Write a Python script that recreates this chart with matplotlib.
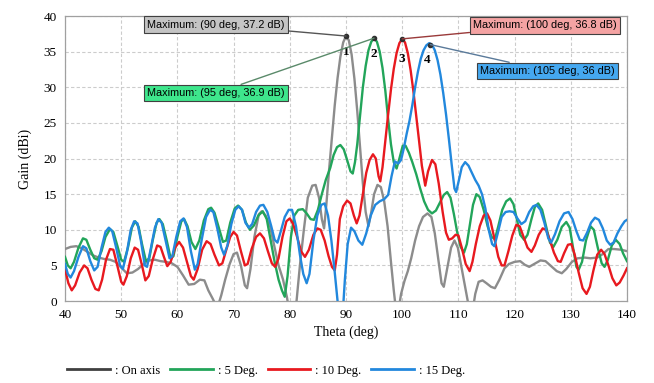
import matplotlib
matplotlib.use("Agg")
import matplotlib.pyplot as plt

# ---------------- data ----------------
theta_axis = [40, 41, 42, 43, 44, 45, 46, 47, 48, 49, 50, 51, 52, 53, 54, 55, 56, 57, 58, 59,
              60, 61, 62, 63, 64, 64.8, 65.5, 66.3, 67.1, 67.8, 68.5, 69.3, 70, 70.6, 71.3, 72, 72.4,
              73, 73.7, 74.5, 75, 75.7, 76.5, 77.3, 78, 78.8, 79.5, 80, 80.6, 81.2, 81.8, 82.5,
              83.2, 84, 84.6, 85.2, 85.7, 86.1, 86.5, 87, 87.5, 88, 88.5, 89, 89.5, 90, 90.5,
              91, 91.5, 92, 92.5, 93, 93.5, 94, 94.5, 95, 95.6, 96.2, 96.8, 97.4, 98, 98.5, 99,
              99.4, 99.8, 100.4, 101, 101.6, 102.3, 103, 103.7, 104.5, 105.2, 105.8, 106.4, 107,
              107.4, 108, 108.7, 109.3, 109.9, 110.6, 111.3, 111.9, 112.5, 113, 113.6, 114.3, 115,
              115.8, 116.5, 117.3, 118.2, 119, 120, 121, 121.8, 122.6, 123.5, 124.6, 125.5, 126.5,
              127.5, 128.4, 129.2, 130.2, 131.2, 132.5, 133.5, 134.7, 135.7, 136.7, 137.7, 139, 140]
gain_axis = [7.3, 7.6, 7.7, 7.4, 6.9, 6.4, 6.1, 5.9, 5.8, 5.5, 4.7, 3.9, 4.0, 4.5, 5.2, 5.7, 5.8, 5.6, 5.5, 5.3,
             4.8, 3.6, 2.3, 2.4, 3.0, 2.9, 1.5, 0.3, -1.0, 0.8, 3.0, 5.2, 6.6, 6.8, 5.0, 2.2, 1.8,
             4.5, 9.0, 12.2, 12.6, 12.0, 10.5, 7.5, 5.0, 3.0, 0.5, -2.0, -3.0, 0.0, 5.0, 10.0,
             14.5, 16.2, 16.3, 14.5, 11.5, 10.2, 13.5, 18.5, 23.0, 27.5, 31.3, 34.3, 36.3, 37.2, 36.6,
             34.6, 31.2, 26.7, 21.5, 16.5, 12.5, 10.5, 12.5, 15.0, 16.3, 16.0, 14.0, 10.5, 5.5, 1.5, -2.0,
             -1.0, 1.0, 2.8, 4.2, 6.0, 8.5, 10.5, 11.8, 12.3, 11.8, 9.5, 6.0, 2.5,
             2.0, 4.5, 7.5, 8.5, 7.5, 4.5, 1.5, -1.0, -1.5, 1.0, 2.7, 2.9, 2.5,
             2.0, 1.8, 3.0, 4.6, 5.2, 5.5, 5.6, 5.1, 4.8, 5.2, 5.7, 5.6, 4.9,
             4.2, 3.9, 4.5, 5.5, 6.0, 6.1, 6.0, 6.1, 6.6, 7.3, 7.3, 7.2, 7.0]

theta_5 = [40, 40.5, 41, 41.6, 42.4, 43.2, 43.8, 44.5, 45.2, 45.8, 46.5, 47.2, 48, 48.6, 49.3, 50, 50.5,
           51.2, 51.9, 52.5, 53.1, 53.7, 54.4, 55, 55.6, 56.3, 56.8, 57.4, 58.1, 58.8, 59.3, 60, 60.7,
           61.2, 61.8, 62.5, 63.2, 63.9, 64.7, 65.5, 66, 66.6, 67.3, 68.1, 68.7, 69.4, 70.2, 70.8,
           71.5, 72.2, 72.9, 73.6, 74.4, 75.2, 75.9, 76.6, 77.3, 78, 78.6, 79.1, 79.6, 80.2, 80.8,
           81.5, 82.3, 83, 83.7, 84.3, 85, 85.7, 86.4, 87.2, 87.8, 88.4, 89, 89.6, 90.2, 90.8, 91.2,
           91.6, 92, 92.5, 93, 93.5, 94, 94.5, 95, 95.5, 96, 96.5, 97, 97.5, 98, 98.5, 99, 99.5,
           100.1, 100.6, 101.2, 101.8, 102.5, 103.2, 103.9, 104.6, 105.3, 106, 106.7, 107.4, 108,
           108.6, 109.2, 109.8, 110.4, 111, 111.5, 112, 112.6, 113.2, 113.8, 114.5, 115.2, 115.9,
           116.5, 117.1, 117.8, 118.5, 119.2, 119.8, 120.4, 121, 121.7, 122.3, 123, 123.6, 124.2,
           124.9, 125.6, 126.3, 126.9, 127.6, 128.4, 129.2, 129.8, 130.4, 131, 131.4, 132, 132.7,
           133.5, 134.1, 134.8, 135.5, 136, 136.6, 137.3, 138, 138.7, 139.3, 140]
gain_5 = [6.2, 5.0, 4.6, 5.5, 7.5, 8.8, 8.6, 7.2, 6.0, 5.8, 7.0, 9.0, 10.1, 9.7, 7.8, 5.8, 5.5,
          7.5, 10.3, 11.2, 10.4, 8.0, 5.6, 6.0, 8.5, 11.0, 11.5, 10.8, 8.5, 6.0, 6.3, 9.0, 11.2,
          11.5, 10.5, 8.3, 7.3, 8.5, 11.3, 12.9, 13.1, 12.4, 10.5, 8.3, 8.5, 11.0, 13.0, 13.4,
          12.8, 11.0, 10.0, 10.6, 12.0, 12.6, 11.5, 8.5, 5.5, 3.0, 1.5, 0.6, 3.5, 9.0, 12.0,
          12.8, 12.9, 12.3, 11.5, 11.4, 12.8, 15.0, 17.0, 18.7, 20.5, 21.6, 21.9, 21.3, 19.8, 18.2, 17.9,
          19.5, 22.0, 26.0, 30.0, 33.0, 35.2, 36.4, 36.9, 36.4, 35.0, 32.7, 29.5, 25.5, 22.0, 19.5, 18.6, 20.0,
          21.8, 21.8, 20.8, 19.5, 17.8, 15.8, 14.0, 12.8, 12.3, 12.7, 13.8, 14.9, 15.3,
          14.5, 12.2, 9.6, 7.6, 6.8, 8.0, 10.5, 13.5, 15.0, 14.6, 12.8, 10.5, 9.0,
          8.7, 10.5, 12.8, 14.0, 14.4, 13.6, 11.5, 9.3, 8.6, 9.3, 11.5, 13.2, 13.7,
          12.8, 10.5, 8.2, 7.6, 8.6, 10.4, 11.1, 10.3, 7.5, 4.8, 4.4, 5.5, 8.5,
          10.5, 10.0, 7.5, 5.3, 4.8, 5.8, 7.8, 8.6, 8.0, 6.7, 5.6]

theta_10 = [40, 40.6, 41.2, 41.8, 42.6, 43.4, 44, 44.7, 45.4, 46, 46.6, 47.3, 48, 48.6, 49.3, 50, 50.4,
            51, 51.7, 52.4, 53, 53.7, 54.3, 54.9, 55.6, 56.4, 57, 57.6, 58.2, 58.8, 59.6, 60.3, 61,
            61.7, 62.4, 62.9, 63.6, 64.4, 65.2, 65.9, 66.6, 67.4, 68, 68.7, 69.4, 70, 70.6, 71.3, 72,
            72.5, 73.2, 74, 74.7, 75.4, 76.1, 76.8, 77.4, 78, 78.7, 79.4, 80, 80.6, 81.3, 82, 82.7,
            83.4, 84.2, 84.9, 85.5, 86.2, 86.9, 87.5, 88, 88.4, 88.9, 89.5, 90.2, 90.8, 91.4, 91.9,
            92.4, 93, 93.6, 94.2, 94.8, 95.3, 95.8, 96.1, 96.5, 97, 97.5, 98, 98.5, 99, 99.5, 100,
            100.5, 101, 101.5, 102, 102.5, 103, 103.5, 104.1, 104.6, 105.3, 105.9, 106.5, 107.2,
            107.8, 108.3, 108.9, 109.5, 110, 110.6, 111.3, 112, 112.5, 113.1, 113.8, 114.5, 115.1,
            115.7, 116.4, 117.1, 117.7, 118.2, 118.9, 119.6, 120.3, 120.9, 121.6, 122.3, 123, 123.6,
            124.3, 125, 125.6, 126.3, 127, 127.7, 128.2, 128.8, 129.5, 130.1, 130.7, 131.4, 132.1,
            132.8, 133.4, 134, 134.7, 135.4, 136, 136.7, 137.4, 138.1, 138.7, 139.4, 140]
gain_10 = [4.5, 2.5, 1.5, 2.2, 4.0, 5.0, 4.6, 3.0, 1.7, 1.5, 3.0, 5.8, 7.3, 7.2, 5.0, 2.7, 2.3,
           3.5, 6.0, 7.5, 7.2, 5.0, 2.9, 3.5, 5.8, 7.8, 7.6, 6.2, 4.9, 5.5, 7.5, 8.3, 7.5,
           5.5, 3.5, 3.0, 4.5, 7.2, 8.4, 8.0, 6.5, 5.0, 5.3, 7.2, 9.0, 9.7, 9.2, 7.0, 5.0,
           5.2, 7.3, 9.0, 9.5, 8.8, 7.0, 5.3, 4.8, 6.0, 9.0, 11.2, 11.6, 10.8, 9.0, 7.0, 6.2,
           7.2, 9.3, 10.2, 10.0, 8.5, 6.3, 4.8, 4.3, 6.5, 11.5, 13.3, 14.1, 13.7, 12.0, 10.9,
           12.0, 15.0, 18.0, 19.8, 20.6, 20.0, 17.5, 16.8, 18.8, 22.5, 26.2, 29.7, 32.6, 34.8, 36.2, 36.8,
           36.3, 34.8, 32.4, 29.4, 26.0, 22.5, 19.0, 16.2, 18.2, 19.8, 19.2, 16.5, 12.5,
           9.6, 8.6, 8.8, 9.3, 9.2, 7.5, 5.2, 4.2, 5.5, 8.0, 10.5, 12.0, 12.3,
           11.3, 8.8, 6.2, 5.0, 5.0, 7.0, 9.2, 10.7, 10.5, 9.0, 7.5, 6.9, 7.8,
           9.3, 10.2, 10.0, 8.5, 6.8, 5.6, 5.5, 6.7, 7.9, 8.0, 6.5, 4.0, 1.8,
           1.0, 2.0, 4.2, 6.5, 7.2, 6.6, 5.0, 3.2, 2.2, 2.6, 3.6, 4.6]

theta_15 = [40, 40.5, 41, 41.6, 42.4, 43.2, 43.8, 44.5, 45.2, 45.8, 46.5, 47.2, 47.8, 48.4, 49.1, 49.8,
            50.3, 51, 51.7, 52.3, 52.9, 53.5, 54.2, 54.6, 55.3, 56, 56.6, 57.2, 57.9, 58.6, 59.1, 59.8,
            60.5, 61.1, 61.7, 62.4, 63.1, 63.6, 64.3, 65.1, 65.8, 66.4, 67.1, 67.8, 68.3, 68.9, 69.6,
            70.3, 70.9, 71.5, 72.1, 72.7, 73.3, 74, 74.7, 75.3, 76, 76.7, 77.3, 77.8, 78.4, 79.1,
            79.8, 80.4, 81.1, 81.8, 82.4, 83, 83.5, 84.2, 84.9, 85.6, 86.2, 86.8, 87.4, 88, 88.5,
            88.9, 89.4, 89.8, 90.3, 90.9, 91.5, 92.2, 92.9, 93.6, 94.4, 95.2, 96, 96.8, 97.5, 98.1,
            98.7, 99.3, 99.8, 100.3, 100.8, 101.3, 101.8, 102.3, 102.8, 103.3, 103.8, 104.3, 104.8,
            105.3, 105.8, 106.3, 106.8, 107.3, 107.8, 108.3, 108.8, 109.3, 109.6, 110.1, 110.6,
            111.2, 111.8, 112.4, 113, 113.6, 114.2, 114.8, 115.4, 116, 116.4, 117, 117.7, 118.4,
            119.1, 119.8, 120.5, 121.2, 121.9, 122.6, 123.3, 123.9, 124.6, 125.3, 126, 126.5, 127.2,
            128, 128.8, 129.6, 130.3, 131, 131.6, 132.2, 132.9, 133.6, 134.3, 135, 135.7, 136.4,
            137, 137.6, 138.3, 139, 139.6, 140]
gain_15 = [5.2, 3.8, 3.3, 4.2, 6.2, 7.7, 7.4, 5.6, 4.3, 4.8, 7.5, 9.7, 10.3, 9.8, 7.5, 5.0,
           4.5, 6.8, 10.0, 11.2, 10.9, 8.5, 5.0, 4.8, 7.5, 10.3, 11.5, 11.0, 8.5, 6.0, 6.3, 9.0,
           11.2, 11.6, 10.4, 7.0, 4.4, 5.2, 8.5, 11.8, 12.8, 12.5, 10.2, 7.5, 6.5, 7.8, 10.8,
           12.8, 13.3, 12.8, 11.0, 10.3, 10.8, 12.5, 13.4, 13.5, 12.5, 10.5, 8.6, 8.2, 9.8, 11.8,
           12.8, 12.8, 10.5, 6.5, 3.8, 2.5, 3.8, 8.5, 12.0, 13.5, 13.7, 12.0, 8.5, 4.0, 0.0,
           -3.0, -2.0, 3.0, 8.0, 10.3, 9.8, 8.5, 7.9, 9.5, 12.0, 13.5, 14.0, 14.3, 14.9, 17.5,
           19.6, 19.3, 19.8, 21.5, 23.5, 25.3, 27.5, 30.0, 32.2, 34.0, 35.2, 35.9, 36.2,
           36.0, 35.2, 33.8, 31.8, 29.2, 26.2, 22.8, 19.2, 15.8, 15.3, 17.0, 18.8,
           19.5, 19.0, 18.0, 17.0, 16.2, 15.0, 13.0, 10.0, 8.0, 7.7, 9.5, 11.8, 12.5,
           12.6, 12.5, 11.6, 10.8, 11.2, 12.5, 13.3, 13.5, 12.8, 11.0, 8.8, 8.2, 9.4,
           11.2, 12.3, 12.5, 11.5, 9.8, 8.6, 8.5, 9.6, 11.0, 11.7, 11.4, 10.2, 8.5,
           7.9, 8.2, 9.5, 10.5, 11.2, 11.4]

legend_labels = [": On axis", ": 5 Deg.", ": 10 Deg.", ": 15 Deg."]
peak_theta = [90, 95, 100, 105]
peak_gain = [37.2, 36.9, 36.8, 36.0]
peak_numbers = ["1", "2", "3", "4"]
box_texts = ["Maximum: (90 deg, 37.2 dB)", "Maximum: (95 deg, 36.9 dB)",
             "Maximum: (100 deg, 36.8 dB)", "Maximum: (105 deg, 36 dB)"]
x_ticks = [40, 50, 60, 70, 80, 90, 100, 110, 120, 130, 140]
y_ticks = [0, 5, 10, 15, 20, 25, 30, 35, 40]

# ---------------- styling ----------------
line_colors = ["#8c8c8c", "#22a55a", "#e8191f", "#2288dd"]
legend_colors = ["#404040", "#22a55a", "#e8191f", "#2288dd"]
box_faces = ["#c4c4c4", "#3ee68c", "#f4a3a3", "#45a8f0"]
conn_colors = ["#555555", "#5a8a6a", "#9a3a3a", "#5a7a9a"]
box_pos = [(66.9, 38.8), (66.9, 29.2), (125.4, 38.7), (125.9, 32.3)]
num_offsets = [(90.0, 35.0), (95.0, 34.7), (100.0, 34.0), (104.5, 33.8)]

plt.rcParams['font.family'] = ['Liberation Serif', 'DejaVu Serif']

fig = plt.figure(figsize=(6.54, 3.83), dpi=100)
ax = fig.add_axes([0.0994, 0.214, 0.8593, 0.744])

series = [(theta_axis, gain_axis), (theta_5, gain_5), (theta_10, gain_10), (theta_15, gain_15)]
for (t, g), c in zip(series, line_colors):
    ax.plot(t, g, color=c, lw=1.7, solid_joinstyle='round', zorder=3)

ax.set_xlim(40, 140)
ax.set_ylim(0, 40)
ax.set_xticks(x_ticks)
ax.set_yticks(y_ticks)
ax.tick_params(length=0, labelsize=9.5, pad=6)
ax.grid(True, color="#cccccc", lw=0.8, ls=(0, (3, 2)))
ax.set_axisbelow(True)
for s in ax.spines.values():
    s.set_color("#a0a0a0")
    s.set_linewidth(0.9)
ax.set_xlabel("Theta (deg)", fontsize=10, labelpad=3)
ax.set_ylabel("Gain (dBi)", fontsize=10, labelpad=8)

# peak markers, numbers and annotation boxes
for i in range(4):
    ax.plot([peak_theta[i]], [peak_gain[i]], 'o', color="#303030", ms=3, zorder=5)
    ax.text(num_offsets[i][0], num_offsets[i][1], peak_numbers[i], fontsize=9.5,
            fontweight='bold', ha='center', va='center', zorder=6)
    ax.annotate(box_texts[i], xy=(peak_theta[i], peak_gain[i]), xytext=box_pos[i],
                ha='center', va='center', fontsize=7.8, family=['Liberation Sans', 'DejaVu Sans'],
                bbox=dict(boxstyle='square,pad=0.3', fc=box_faces[i], ec="#404040", lw=0.8),
                arrowprops=dict(arrowstyle='-', color=conn_colors[i], lw=1.0,
                                shrinkA=0, shrinkB=0),
                zorder=7)

# legend
handles = [plt.Line2D([], [], color=c, lw=2) for c in legend_colors]
fig.legend(handles, legend_labels, loc='center', bbox_to_anchor=(0.407, 0.032), ncol=4,
           frameon=False, fontsize=9, handlelength=3.4, handletextpad=0.4,
           columnspacing=0.8)

fig.savefig("out.png", dpi=100)
